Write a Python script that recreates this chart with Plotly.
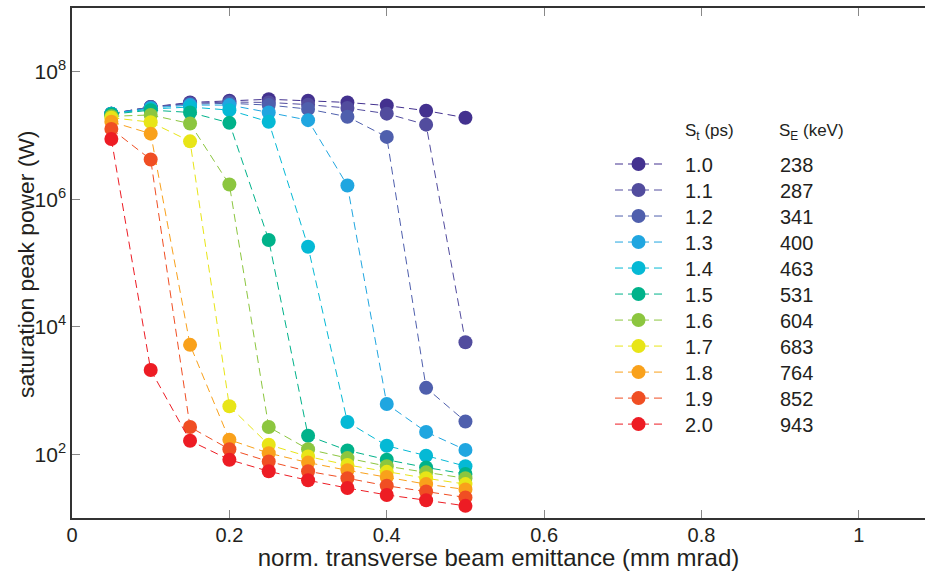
import plotly.graph_objects as go

emittance = [0.05, 0.10, 0.15, 0.20, 0.25, 0.30, 0.35, 0.40, 0.45, 0.50]

sigma_t = ["1.0", "1.1", "1.2", "1.3", "1.4", "1.5", "1.6", "1.7", "1.8", "1.9", "2.0"]
sigma_e = ["238", "287", "341", "400", "463", "531", "604", "683", "764", "852", "943"]

p_10 = [2.2e7, 2.8e7, 3.3e7, 3.5e7, 3.7e7, 3.5e7, 3.3e7, 2.95e7, 2.45e7, 1.9e7]
p_11 = [2.2e7, 2.8e7, 3.2e7, 3.35e7, 3.3e7, 3.05e7, 2.7e7, 2.2e7, 1.48e7, 5.7e3]
p_12 = [2.2e7, 2.8e7, 3.1e7, 3.2e7, 3.0e7, 2.6e7, 1.97e7, 9.5e6, 1.1e3, 327]
p_13 = [2.2e7, 2.7e7, 3.0e7, 3.0e7, 2.3e7, 1.74e7, 1.64e6, 614, 224, 117]
p_14 = [2.2e7, 2.6e7, 2.8e7, 2.5e7, 1.64e7, 1.8e5, 320, 136, 95, 65]
p_15 = [2.15e7, 2.5e7, 2.3e7, 1.58e7, 2.3e5, 195, 115, 82, 62, 49]
p_16 = [2.0e7, 2.1e7, 1.54e7, 1.7e6, 267, 120, 87, 65, 52, 42]
p_17 = [1.9e7, 1.62e7, 8.1e6, 565, 141, 92, 68, 53, 42, 34]
p_18 = [1.64e7, 1.07e7, 5.2e3, 169, 104, 74, 56, 44, 34, 28]
p_19 = [1.27e7, 4.2e6, 267, 120, 77, 54, 42, 32, 26, 21]
p_20 = [8.8e6, 2.1e3, 163, 82, 54, 39, 29.5, 23, 19, 15.5]

power = [p_10, p_11, p_12, p_13, p_14, p_15, p_16, p_17, p_18, p_19, p_20]

colors = ["#43318F", "#524C9E", "#4F5FAD", "#20A6E0", "#05B9D5", "#00B28A",
          "#8CC63F", "#E8E517", "#F9A11B", "#F04E23", "#ED1C24"]

y_tickvals = [1e2, 1e4, 1e6, 1e8]
y_ticktext = ["10<sup>2</sup>", "10<sup>4</sup>", "10<sup>6</sup>", "10<sup>8</sup>"]
x_tickvals = [0, 0.2, 0.4, 0.6, 0.8, 1.0]
x_ticktext = ["0", "0.2", "0.4", "0.6", "0.8", "1"]

FONT = "Liberation Sans, Arial, sans-serif"
TXT = "#231F20"
NB = "\u00a0"

W, H = 925, 571
ML, MR, MT, MB = 72, 0, 8, 53
PW, PH = W - ML - MR, H - MT - MB


def px_x(px):
    return (px - ML) / PW


def px_y(py):
    return 1 - (py - MT) / PH


fig = go.Figure()
for st, vals, col in zip(sigma_t, power, colors):
    fig.add_trace(go.Scatter(
        x=emittance, y=vals, mode="lines+markers",
        name=NB,
        line=dict(color=col, width=1, dash="8px,5px"),
        marker=dict(color=col, size=14, line=dict(width=0)),
    ))

annotations = []
row0, rowstep = 165, 26
for i, (st, se) in enumerate(zip(sigma_t, sigma_e)):
    yy = px_y(row0 + rowstep * i)
    annotations.append(dict(x=px_x(683), y=yy, xref="paper", yref="paper",
                            text=st, showarrow=False, xanchor="left", yanchor="middle",
                            font=dict(size=20, color=TXT)))
    annotations.append(dict(x=px_x(778), y=yy, xref="paper", yref="paper",
                            text=se, showarrow=False, xanchor="left", yanchor="middle",
                            font=dict(size=20, color=TXT)))
annotations.append(dict(x=px_x(683), y=px_y(132), xref="paper", yref="paper",
                        text="S<sub>t</sub> (ps)", showarrow=False, xanchor="left",
                        yanchor="middle", font=dict(size=17, color=TXT)))
annotations.append(dict(x=px_x(777), y=px_y(132), xref="paper", yref="paper",
                        text="S<sub>E</sub> (keV)", showarrow=False, xanchor="left",
                        yanchor="middle", font=dict(size=17, color=TXT)))
# y-axis title
annotations.append(dict(x=px_x(26), y=px_y(265), xref="paper", yref="paper",
                        text="saturation peak power (W)", showarrow=False,
                        textangle=-90, xanchor="center", yanchor="middle",
                        font=dict(family=FONT, size=22.8, color=TXT)))

fig.update_layout(
    width=W, height=H,
    margin=dict(l=ML, r=MR, t=MT, b=MB, autoexpand=False),
    paper_bgcolor="white", plot_bgcolor="white",
    font=dict(family=FONT, size=20, color=TXT),
    showlegend=True,
    legend=dict(
        x=px_x(610), y=px_y(146), xanchor="left", yanchor="top",
        bgcolor="rgba(0,0,0,0)", font=dict(size=17.7, color=TXT),
        itemwidth=47,
    ),
    annotations=annotations,
    xaxis=dict(
        range=[0, 1.084], tickvals=x_tickvals, ticktext=x_ticktext,
        ticks="inside", ticklen=8, tickcolor="#888888", tickwidth=1,
        showline=True, linecolor="#333333", linewidth=1.5, mirror="ticks",
        showgrid=False, zeroline=False, automargin=False,
        ticklabelstandoff=-2,
        title=dict(text="norm. transverse beam emittance (mm mrad)", standoff=15),
        tickfont=dict(size=20, color=TXT),
    ),
    yaxis=dict(
        type="log", range=[1, 9], tickvals=y_tickvals, ticktext=y_ticktext,
        ticks="inside", ticklen=8, tickcolor="#888888", tickwidth=1,
        showline=True, linecolor="#333333", linewidth=1.5, mirror=False,
        showgrid=False, zeroline=False, automargin=False,
        tickfont=dict(size=21, color=TXT),
    ),
)

fig.write_html("out.html", config={"displayModeBar": False},
               post_script="document.body.style.margin='0px';")
